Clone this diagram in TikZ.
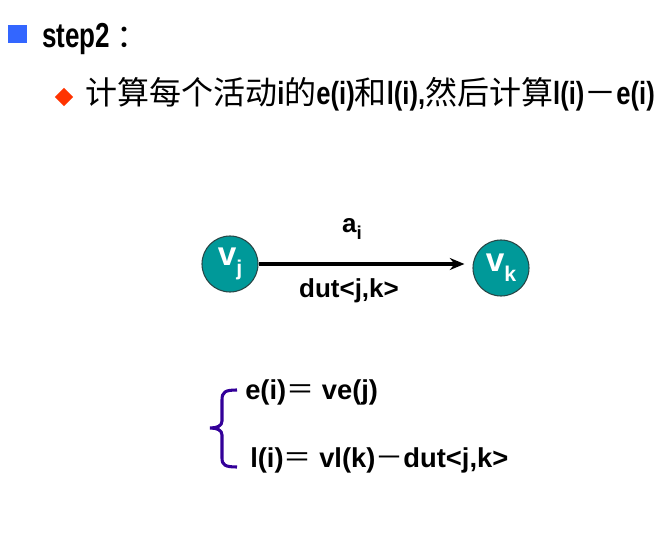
\documentclass[tikz,border=0pt]{standalone}
\usepackage{fontspec}
\setmainfont{Liberation Sans}
\newfontfamily\narrow{Liberation Sans}[FakeStretch=0.8]
\newfontfamily\titlefont{Liberation Sans}[FakeStretch=0.75]
\newfontfamily\cjk{Noto Sans CJK SC}
\usetikzlibrary{arrows.meta,shapes.geometric}
\definecolor{bulletblue}{RGB}{51,102,255}
\definecolor{bulletred}{RGB}{255,51,0}
\definecolor{vertexfill}{RGB}{0,153,153}
\definecolor{vertexline}{RGB}{40,70,70}
\definecolor{bracecolor}{RGB}{51,0,153}
\newcommand\zh[2][24]{{\fontsize{#1}{#1}\selectfont\cjk\mdseries #2}}
\newcommand\sub[2][16]{\raisebox{-0.3em}{\fontsize{#1}{#1}\selectfont #2}}
\begin{document}
\begin{tikzpicture}[
    x=0.75pt, y=-0.75pt,
    vertex/.style={
        circle,
        draw=vertexline,
        fill=vertexfill,
        line width=0.8pt,
        minimum size=42pt,
        inner sep=0pt,
        text=white,
        font=\fontsize{25}{25}\selectfont\bfseries
    },
    title text/.style={
        inner sep=0pt,
        anchor=base west,
        font=\fontsize{26}{30}\selectfont\titlefont\bfseries
    },
    item text/.style={
        inner sep=0pt,
        anchor=base west,
        font=\fontsize{24}{28}\selectfont\narrow\bfseries
    },
    edge text/.style={
        inner sep=0pt,
        anchor=base,
        font=\fontsize{19.5}{24}\selectfont\bfseries
    },
    formula text/.style={
        inner sep=0pt,
        anchor=base west,
        font=\fontsize{20.5}{24}\selectfont\bfseries
    }
]

% Fondo y marco
\fill[white] (0,0) rectangle (672,542);
\useasboundingbox (0,0) rectangle (672,542);

% Título
\node[rectangle, fill=bulletblue, minimum width=14.5pt, minimum height=14pt,
      inner sep=0pt] (square) at (17.5,34) {};
\node[title text] (title) at (42,48) {step2\kern5pt\zh[24]{：}};

% Punto
\node[diamond, fill=bulletred, minimum width=14pt, minimum height=14pt,
      inner sep=0pt] (rhomb) at (64,97) {};
\node[item text] (item) at (85,105) {\zh{计算每个活动}i\zh{的}e(i)\zh{和}l(i),\zh{然后计算}l(i)\zh{－}e(i)};

% Vértices y arco
\node[vertex] (vj) at (230,264) {v\sub{j}};
\node[vertex] (vk) at (501,268) {v\sub{k}};
\draw[-{Stealth[length=11pt,width=9pt]}, line width=2.4pt, shorten >=6pt]
    (vj) -- (vj -| vk.west);
\node[edge text] (ai) at (352,232) {a\sub[14]{i}};
\node[edge text] (dut) at (349,297) {dut<j,k>};

% Fórmulas
\node[formula text] (eq1) at (245,399) {e(i)\zh[21]{＝} ve(j)};
\node[formula text] (eq2) at (250,467) {l(i)\zh[21]{＝} vl(k)\zh[21]{－}dut<j,k>};
\draw[bracecolor, line width=2.3pt]
    (237,390) .. controls (225,390) and (222,392) .. (222,400) -- (222,421)
    .. controls (222,426) and (217,428) .. (210,428)
    .. controls (217,428) and (222,430) .. (222,435) -- (222,458)
    .. controls (222,465) and (225,467) .. (237,467);

\end{tikzpicture}
\end{document}
